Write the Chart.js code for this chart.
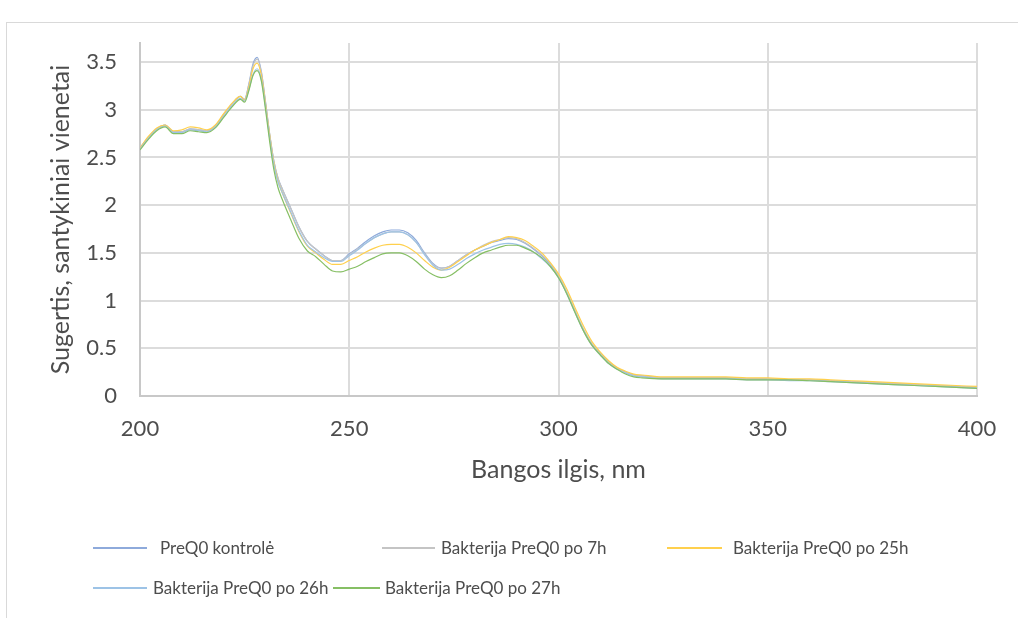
<!DOCTYPE html>
<html>
<head>
<meta charset="utf-8">
<script src="https://cdn.jsdelivr.net/npm/chart.js@4.4.0/dist/chart.umd.min.js"></script>
<style>
  body { margin: 0; background: #fff; }
  #wrap { position: relative; width: 1018px; height: 618px; overflow: hidden; font-family: Lato, sans-serif; }
  #frame { position: absolute; left: 6px; top: 22px; width: 1100px; height: 700px; border: 1px solid #d9d9d9; }
  #chart { position: absolute; left: 0; top: 0; }
  .item { position: absolute; height: 20px; font-size: 17px; line-height: 20px; color: #4d4d4d; white-space: nowrap; }
  .item i { position: absolute; top: 9px; height: 0; border-top: 2px solid; }
</style>
</head>
<body>
<div id="wrap">
  <div id="frame"></div>
  <canvas id="chart" width="1018" height="618"></canvas>
  <div id="legend"></div>
</div>
<script>
// wavelength, nm
const wavelengths = [
  200, 202, 204, 206, 208, 210, 212, 214, 216, 218, 220, 222, 224,
  225, 226, 227, 228, 229, 230, 231, 232, 233, 234,
  236, 238, 240, 242, 244, 246, 248, 250, 252, 254, 256, 258, 260, 262, 264, 266, 268, 270,
  272, 274, 276, 278, 280, 282, 284, 286, 288, 290, 292, 294, 296, 298, 300,
  302, 304, 306, 308, 310, 312, 314, 316, 318, 320,
  325, 330, 335, 340, 345, 350, 355, 360, 365, 370, 375, 380, 385, 390, 395, 400
];

const xTicks = [200, 250, 300, 350, 400];
const yTicks = [0, 0.5, 1, 1.5, 2, 2.5, 3, 3.5];

const names = [
  ' PreQ0 kontrolė',
  'Bakterija PreQ0 po 7h',
  'Bakterija PreQ0 po 25h',
  'Bakterija PreQ0 po 26h',
  'Bakterija PreQ0 po 27h'
];

const kontrole = [
  2.60, 2.71, 2.80, 2.84, 2.77, 2.77, 2.80, 2.79, 2.78, 2.83, 2.95, 3.06, 3.14,
  3.11, 3.27, 3.48, 3.55, 3.40, 3.08, 2.74, 2.46, 2.28, 2.17,
  1.97, 1.77, 1.62, 1.54, 1.47, 1.42, 1.42, 1.49, 1.55, 1.62, 1.68, 1.72, 1.74, 1.74, 1.71, 1.63, 1.50, 1.39,
  1.34, 1.36, 1.42, 1.48, 1.53, 1.57, 1.61, 1.63, 1.65, 1.64, 1.60, 1.54, 1.47, 1.38, 1.25,
  1.08, 0.88, 0.69, 0.54, 0.45, 0.36, 0.29, 0.25, 0.22, 0.21,
  0.19, 0.19, 0.19, 0.19, 0.18, 0.18, 0.17, 0.17, 0.16, 0.15, 0.14, 0.13, 0.12, 0.11, 0.10, 0.09
];
const po7h = [
  2.60, 2.71, 2.80, 2.84, 2.77, 2.77, 2.80, 2.79, 2.78, 2.83, 2.95, 3.06, 3.14,
  3.11, 3.26, 3.46, 3.53, 3.39, 3.07, 2.74, 2.46, 2.28, 2.17,
  1.97, 1.77, 1.62, 1.54, 1.47, 1.42, 1.42, 1.48, 1.54, 1.60, 1.66, 1.70, 1.72, 1.72, 1.69, 1.61, 1.49, 1.38,
  1.34, 1.36, 1.42, 1.48, 1.53, 1.58, 1.62, 1.64, 1.66, 1.65, 1.61, 1.55, 1.48, 1.39, 1.26,
  1.09, 0.89, 0.70, 0.55, 0.45, 0.36, 0.29, 0.25, 0.22, 0.21,
  0.19, 0.19, 0.19, 0.19, 0.18, 0.18, 0.17, 0.17, 0.16, 0.15, 0.14, 0.13, 0.12, 0.11, 0.10, 0.09
];
const po25h = [
  2.60, 2.72, 2.81, 2.84, 2.78, 2.79, 2.82, 2.81, 2.79, 2.84, 2.96, 3.07, 3.14,
  3.10, 3.24, 3.43, 3.49, 3.36, 3.06, 2.73, 2.44, 2.25, 2.13,
  1.92, 1.72, 1.57, 1.50, 1.43, 1.38, 1.38, 1.42, 1.46, 1.51, 1.55, 1.58, 1.59, 1.59, 1.56, 1.50, 1.42, 1.35,
  1.32, 1.35, 1.41, 1.47, 1.53, 1.57, 1.61, 1.64, 1.67, 1.66, 1.63, 1.57, 1.50, 1.40, 1.28,
  1.12, 0.92, 0.73, 0.57, 0.46, 0.37, 0.30, 0.26, 0.23, 0.22,
  0.20, 0.20, 0.20, 0.20, 0.19, 0.19, 0.18, 0.18, 0.17, 0.16, 0.15, 0.14, 0.13, 0.12, 0.11, 0.10
];
const po26h = [
  2.59, 2.70, 2.79, 2.83, 2.76, 2.76, 2.79, 2.78, 2.77, 2.82, 2.93, 3.04, 3.12,
  3.09, 3.21, 3.37, 3.43, 3.32, 3.03, 2.70, 2.42, 2.24, 2.13,
  1.93, 1.73, 1.58, 1.51, 1.45, 1.41, 1.41, 1.47, 1.53, 1.60, 1.66, 1.70, 1.72, 1.72, 1.69, 1.61, 1.48, 1.37,
  1.32, 1.33, 1.38, 1.44, 1.49, 1.53, 1.56, 1.59, 1.60, 1.59, 1.56, 1.51, 1.44, 1.36, 1.24,
  1.07, 0.87, 0.68, 0.53, 0.43, 0.34, 0.28, 0.24, 0.21, 0.20,
  0.18, 0.18, 0.18, 0.18, 0.17, 0.17, 0.16, 0.16, 0.15, 0.14, 0.13, 0.12, 0.11, 0.10, 0.09, 0.08
];
const po27h = [
  2.58, 2.69, 2.78, 2.82, 2.75, 2.75, 2.78, 2.77, 2.76, 2.81, 2.92, 3.03, 3.11,
  3.08, 3.20, 3.36, 3.41, 3.30, 3.00, 2.66, 2.37, 2.18, 2.06,
  1.85, 1.65, 1.52, 1.46, 1.38, 1.31, 1.30, 1.33, 1.36, 1.41, 1.45, 1.49, 1.50, 1.50, 1.47, 1.41, 1.33, 1.27,
  1.24, 1.26, 1.32, 1.39, 1.45, 1.50, 1.53, 1.56, 1.58, 1.58, 1.55, 1.51, 1.45, 1.36, 1.24,
  1.07, 0.87, 0.68, 0.53, 0.43, 0.34, 0.28, 0.23, 0.20, 0.19,
  0.18, 0.18, 0.18, 0.18, 0.17, 0.17, 0.17, 0.16, 0.15, 0.14, 0.13, 0.12, 0.11, 0.10, 0.09, 0.08
];

const series = [kontrole, po7h, po25h, po26h, po27h];
const colors = ['#8eaadb', '#c4c4c4', '#ffd04d', '#9dc3e6', '#86bf64'];

const textColor = '#4d4d4d';
const gridColor = '#dcdcdc';

const datasets = series.map((vals, i) => ({
  label: names[i],
  data: vals.map((v, j) => ({ x: wavelengths[j], y: v })),
  borderColor: colors[i],
  borderWidth: 1.2,
  pointRadius: 0,
  cubicInterpolationMode: 'monotone',
  order: series.length - i
}));

new Chart(document.getElementById('chart'), {
  type: 'line',
  data: { datasets },
  options: {
    responsive: false,
    animation: false,
    layout: { padding: { left: 0, top: 43, right: 41, bottom: 122 } },
    plugins: { legend: { display: false }, tooltip: { enabled: false } },
    scales: {
      x: {
        type: 'linear',
        min: xTicks[0],
        max: xTicks[xTicks.length - 1],
        afterBuildTicks: s => { s.ticks = xTicks.map(v => ({ value: v })); },
        ticks: { padding: 20, color: textColor, font: { family: 'Lato', size: 22 }, callback: v => String(v) },
        grid: { color: gridColor, lineWidth: 2, drawTicks: false },
        border: { color: '#c8c8c8', width: 2 },
        title: {
          display: true,
          text: 'Bangos ilgis, nm',
          color: textColor,
          font: { family: 'Lato', size: 25 },
          padding: { top: 0, bottom: 11 }
        },
        afterFit: s => { s.height = 100; }
      },
      y: {
        min: 0,
        max: 3.7,
        afterBuildTicks: s => { s.ticks = yTicks.map(v => ({ value: v })); },
        ticks: { padding: 23, color: textColor, font: { family: 'Lato', size: 22 }, callback: v => String(v) },
        grid: { color: gridColor, lineWidth: 2, drawTicks: false },
        border: { color: '#c8c8c8', width: 2 },
        title: {
          display: true,
          text: 'Sugertis, santykiniai vienetai',
          color: textColor,
          font: { family: 'Lato', size: 25 },
          padding: { top: 46, bottom: 0 }
        },
        afterFit: s => { s.width = 140; }
      }
    }
  }
});

// legend, laid out like the Excel one
const legendPos = [
  { x: 93, y: 538, line: 54, gap: 67 },
  { x: 382, y: 538, line: 53, gap: 59 },
  { x: 667, y: 538, line: 55, gap: 66 },
  { x: 93, y: 578, line: 54, gap: 60 },
  { x: 333, y: 578, line: 47, gap: 52 }
];
const legend = document.getElementById('legend');
names.forEach((n, i) => {
  const p = legendPos[i];
  const el = document.createElement('div');
  el.className = 'item';
  el.style.left = p.x + 'px';
  el.style.top = p.y + 'px';
  el.style.paddingLeft = p.gap + 'px';
  const ln = document.createElement('i');
  ln.style.left = '0px';
  ln.style.width = p.line + 'px';
  ln.style.borderColor = colors[i];
  el.appendChild(ln);
  el.appendChild(document.createTextNode(n.trim()));
  legend.appendChild(el);
});
</script>
</body>
</html>
